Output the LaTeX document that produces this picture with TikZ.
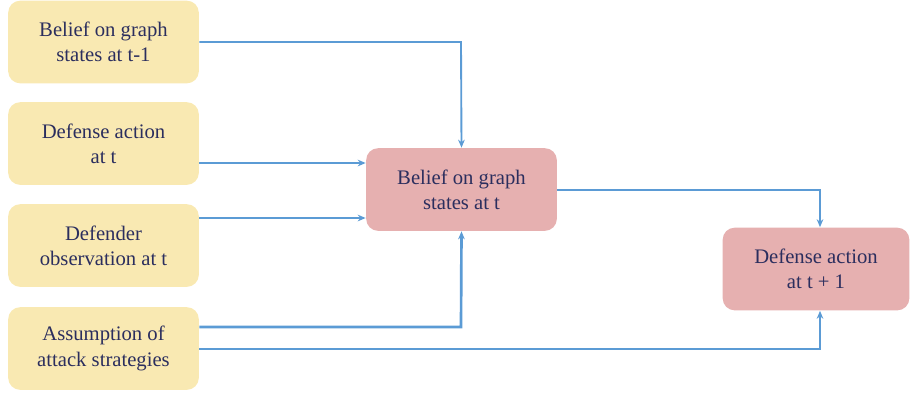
\documentclass[tikz,border=0pt]{standalone}
\usepackage{fontspec}
\setmainfont{Liberation Serif}
\usetikzlibrary{arrows.meta}

\definecolor{boxyellow}{HTML}{F9E9B2}
\definecolor{boxpink}{HTML}{E6B0B0}
\definecolor{linkblue}{HTML}{5B9BD5}
\definecolor{textnavy}{HTML}{2B2E5E}

\tikzset{every picture/.style={line width=0.75pt}}
\tikzset{
  inbox/.style={draw=none, fill=boxyellow, rounded corners=9pt, minimum width=143pt, minimum height=62pt,
    align=center, text=textnavy, font=\fontsize{15.5}{19}\selectfont, inner sep=0pt},
  outbox/.style={inbox, fill=boxpink},
  link/.style={draw=linkblue, line width=2pt, -{Stealth[length=6pt,width=5pt]}},
  thinlink/.style={link, line width=1.4pt}
}

\begin{document}
\begin{tikzpicture}[x=0.75pt,y=0.75pt,yscale=-1,xscale=1]
\useasboundingbox (0,0) rectangle (910,394);

% Input boxes
\node[inbox] (prevbelief) at (103.5,42) {Belief on graph\\states at t-1};
\node[inbox] (defaction) at (103.5,143.5) {Defense action\\at t};
\node[inbox] (defobs) at (103.5,245.5) {Defender\\observation at t};
\node[inbox] (attack) at (103.5,348.5) {Assumption of\\attack strategies};

% Belief update and next action
\node[outbox] (belief) at (461.5,189.5) {Belief on graph\\states at t};
\node[outbox, minimum width=140pt] (nextaction) at (816,269) {Defense action\\at t + 1};

% Connectors
\draw[thinlink] (prevbelief.east |- 0,42) -- (461,42) -- (belief.north);
\draw[link] (defaction.east |- 0,163) -- (belief.west |- 0,163);
\draw[thinlink] (defobs.east |- 0,218) -- (belief.west |- 0,218);
\draw[link] (attack.east |- 0,327) -- (461,327) -- (belief.south);
\draw[link] (attack.east |- 0,349) -- (820,349) -- (nextaction.south -| 820,0);
\draw[thinlink] (belief.east |- 0,190) -- (820,190) -- (nextaction.north -| 820,0);

\end{tikzpicture}
\end{document}
